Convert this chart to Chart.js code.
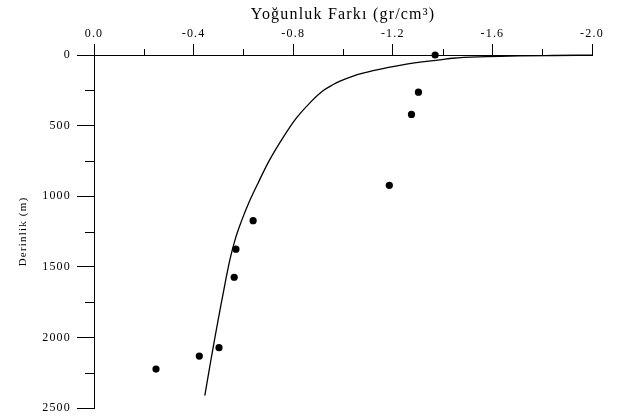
<!DOCTYPE html>
<html><head><meta charset="utf-8">
<script src="https://cdn.jsdelivr.net/npm/chart.js@4.4.0/dist/chart.umd.min.js"></script>
<style>html,body{margin:0;padding:0;background:#fff}</style>
</head><body>
<canvas id="c" width="620" height="416"></canvas>
<script>
const xTickValues = [0, -0.4, -0.8, -1.2, -1.6, -2.0];
const xMinorTicks = [-0.2, -0.6, -1.0, -1.4, -1.8];
const yTickValues = [0, 500, 1000, 1500, 2000, 2500];
const yMinorTicks = [250, 750, 1250, 1750, 2250];

const obsDensity = [-1.37, -1.303, -1.275, -1.186, -0.639, -0.570, -0.563, -0.502, -0.423, -0.249];
const obsDepth   = [0, 263, 421, 923, 1173, 1375, 1574, 2073, 2132, 2224];

const curveDensity = [-2.0, -1.842, -1.709, -1.576, -1.441, -1.389, -1.309, -1.255, -1.121, -1.041, -0.988, -0.961, -0.921, -0.868, -0.814, -0.761, -0.701, -0.661, -0.620, -0.591, -0.567, -0.547, -0.527, -0.507, -0.487, -0.467, -0.445];
const curveDepth   = [1, 3.5, 6.4, 12, 23, 35, 50, 64, 111, 149, 185, 209, 252, 337, 444, 580, 757, 899, 1053, 1182, 1306, 1441, 1612, 1796, 1988, 2186, 2413];

const serif = "'Liberation Serif', 'Times New Roman', serif";

const spacing = {
  id: 'spacing',
  beforeLayout(chart) { chart.ctx.letterSpacing = '1.2px'; },
  beforeDraw(chart) { chart.ctx.letterSpacing = '1.2px'; }
};

const minorTicks = {
  id: 'minorTicks',
  afterDraw(chart) {
    const {ctx, scales: {x, y}, chartArea} = chart;
    ctx.save();
    ctx.strokeStyle = '#000';
    ctx.lineWidth = 1;
    ctx.beginPath();
    xMinorTicks.forEach(v => {
      const px = Math.round(x.getPixelForValue(v)) + 0.5;
      ctx.moveTo(px, chartArea.top);
      ctx.lineTo(px, chartArea.top - 6);
    });
    yMinorTicks.forEach(v => {
      const py = Math.round(y.getPixelForValue(v)) + 0.5;
      ctx.moveTo(chartArea.left, py);
      ctx.lineTo(chartArea.left - 9, py);
    });
    ctx.stroke();
    ctx.restore();
  }
};

const noPad = s => { s.paddingTop = 0; s.paddingBottom = 0; s.paddingLeft = 0; s.paddingRight = 0; };

new Chart(document.getElementById('c'), {
  type: 'scatter',
  data: {
    datasets: [
      {
        data: curveDensity.map((v, i) => ({x: v, y: curveDepth[i]})),
        showLine: true,
        borderColor: '#000',
        borderWidth: 1.3,
        pointRadius: 0,
        cubicInterpolationMode: 'monotone',
        clip: false
      },
      {
        data: obsDensity.map((v, i) => ({x: v, y: obsDepth[i]})),
        showLine: false,
        backgroundColor: '#000',
        borderColor: '#000',
        borderWidth: 0,
        pointRadius: 3.6,
        clip: false
      }
    ]
  },
  plugins: [spacing, minorTicks],
  options: {
    responsive: false,
    animation: false,
    layout: {padding: {left: 0, top: 0, right: 28, bottom: 8}},
    plugins: {legend: {display: false}, tooltip: {enabled: false}},
    scales: {
      x: {
        type: 'linear',
        position: 'top',
        min: -2.0, max: 0,
        reverse: true,
        afterBuildTicks: s => { s.ticks = xTickValues.map(v => ({value: v})); },
        afterFit: s => { s.height = 55; noPad(s); },
        ticks: {
          color: '#000',
          font: {family: serif, size: 12},
          padding: 3,
          maxRotation: 0,
          callback: v => Number(v).toFixed(1)
        },
        grid: {drawOnChartArea: false, drawTicks: true, tickLength: 11, color: '#000', tickWidth: 1},
        border: {display: true, color: '#000', width: 1},
        title: {
          display: true,
          text: 'Yoğunluk Farkı (gr/cm³)',
          color: '#000',
          font: {family: serif, size: 16},
          padding: {top: 5, bottom: 0}
        }
      },
      y: {
        type: 'linear',
        min: 0, max: 2500,
        reverse: true,
        afterBuildTicks: s => { s.ticks = yTickValues.map(v => ({value: v})); },
        afterFit: s => { s.width = 94; noPad(s); },
        ticks: {
          color: '#000',
          font: {family: serif, size: 12},
          padding: 6,
          callback: v => String(v)
        },
        grid: {drawOnChartArea: false, drawTicks: true, tickLength: 17, color: '#000', tickWidth: 1},
        border: {display: true, color: '#000', width: 1},
        title: {
          display: true,
          text: 'Derinlik (m)',
          color: '#000',
          font: {family: serif, size: 11},
          padding: {top: 17, bottom: 0}
        }
      }
    }
  }
});
</script>
</body></html>
